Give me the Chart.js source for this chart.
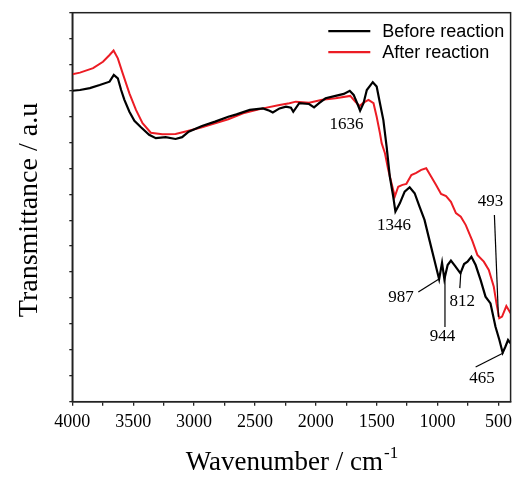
<!DOCTYPE html>
<html lang="en">
<head>
    <meta charset="UTF-8">
    <style>
        * { margin: 0; padding: 0; box-sizing: border-box; }
        body { background: #fff; width: 518px; height: 478px; overflow: hidden; }
        .chart-box { position: relative; width: 518px; height: 478px; }
    </style>
</head>
<body>
<div class="chart-box"><canvas id="ftirChart"></canvas></div>

<script src="https://cdn.jsdelivr.net/npm/chart.js@4.4.1/dist/chart.umd.min.js"></script>
<script>
    // spectra (wavenumber in cm-1, transmittance in arbitrary units)
    const beforeWn = [4000, 3937, 3856, 3775, 3694, 3659, 3626, 3599, 3572, 3531, 3490, 3436, 3369, 3314, 3233, 3152, 3098, 3044, 2935, 2827,
        2719, 2651, 2542, 2434, 2380, 2353, 2298, 2245, 2204, 2185, 2136, 2055, 2014, 1973, 1920, 1838, 1770, 1721, 1689, 1654,
        1636, 1608, 1581, 1532, 1500, 1473, 1445, 1418, 1392, 1364, 1346, 1310, 1270, 1229, 1188, 1148, 1107, 1067, 1026, 987,
        963, 944, 917, 890, 855, 812, 782, 754, 722, 687, 646, 606, 565, 524, 492, 465, 443, 421, 400];
    const beforeT = [11.99, 12.02, 12.09, 12.21, 12.34, 12.60, 12.47, 12.02, 11.64, 11.18, 10.83, 10.58, 10.29, 10.16, 10.20, 10.13, 10.20, 10.41, 10.63, 10.80,
        10.99, 11.08, 11.25, 11.31, 11.22, 11.15, 11.31, 11.38, 11.34, 11.18, 11.51, 11.48, 11.35, 11.51, 11.70, 11.79, 11.87, 11.99, 11.83, 11.44,
        11.22, 11.51, 12.02, 12.32, 12.15, 11.51, 10.86, 9.83, 8.68, 7.91, 7.33, 7.65, 8.10, 8.27, 8.04, 7.52, 7.01, 6.24, 5.46, 4.72,
        5.36, 4.72, 5.27, 5.44, 5.23, 4.95, 5.31, 5.40, 5.59, 5.27, 4.69, 4.05, 3.79, 2.89, 2.38, 1.89, 2.12, 2.38, 2.25];

    const afterWn = [4000, 3937, 3829, 3748, 3694, 3661, 3626, 3586, 3531, 3477, 3423, 3355, 3261, 3152, 3044, 2935, 2827, 2719, 2597, 2434,
        2298, 2217, 2164, 2055, 1947, 1838, 1717, 1676, 1640, 1608, 1567, 1526, 1500, 1473, 1459, 1432, 1405, 1378, 1351, 1323,
        1288, 1256, 1215, 1175, 1134, 1093, 1053, 1012, 971, 930, 890, 849, 809, 768, 714, 673, 620, 579, 538, 516,
        493, 470, 435, 400];
    const afterT = [12.63, 12.69, 12.86, 13.11, 13.37, 13.54, 13.24, 12.66, 11.89, 11.25, 10.74, 10.37, 10.31, 10.32, 10.45, 10.58, 10.74, 10.89, 11.12, 11.31,
        11.44, 11.51, 11.57, 11.53, 11.64, 11.70, 11.79, 11.57, 11.40, 11.53, 11.64, 11.51, 10.99, 10.35, 9.97, 9.58, 8.94, 8.42, 7.91, 8.29,
        8.36, 8.40, 8.74, 8.82, 8.94, 9.00, 8.68, 8.36, 8.01, 7.93, 7.71, 7.27, 7.13, 6.81, 6.20, 5.66, 5.40, 5.08, 4.43, 3.79,
        3.22, 3.28, 3.69, 3.41];

    const seriesNames = ['Before reaction', 'After reaction'];
    const seriesColors = ['#000000', '#ec1c24'];

    // x axis ticks: marks every 250, labels every 500
    const xTicks = [4000, 3750, 3500, 3250, 3000, 2750, 2500, 2250, 2000, 1750, 1500, 1250, 1000, 750, 500];
    const xTickLabels = [4000, 3500, 3000, 2500, 2000, 1500, 1000, 500];

    // peak annotations (text centre and optional leader line, in data units)
    const peakLabels = ['1636', '1346', '493', '987', '944', '812', '465'];
    const peakTextWn = [1748, 1357, 565, 1301, 959, 797, 634];
    const peakTextT = [10.67, 6.78, 7.70, 4.00, 2.50, 3.88, 0.91];
    const leaderFrom = [null, null, [533, 7.20], [1158, 4.23], [939, 2.88], [817, 4.38], [687, 1.34]];
    const leaderTo = [null, null, [500, 3.27], [988, 4.73], [939, 4.96], [809, 4.96], [460, 1.88]];

    const serif = "'Times New Roman', 'Liberation Serif', serif";
    const sans = "Arial, 'Liberation Sans', sans-serif";

    function toPoints(xs, ys) {
        return xs.map((x, i) => ({ x: x, y: ys[i] }));
    }

    // frame, legend, labels and axis titles
    const decor = {
        id: 'decor',
        afterDraw(chart) {
            const ctx = chart.ctx;
            const a = chart.chartArea;
            const xs = chart.scales.x;
            const ys = chart.scales.y;
            ctx.save();

            ctx.strokeStyle = '#222';
            ctx.lineWidth = 1.5;
            ctx.strokeRect(a.left, a.top, a.right - a.left, a.bottom - a.top);

            // legend
            ctx.font = '18px ' + sans;
            ctx.textBaseline = 'middle';
            ctx.textAlign = 'left';
            chart.data.datasets.forEach((ds, i) => {
                const ly = a.top + 18.5 + i * 21;
                ctx.strokeStyle = ds.borderColor;
                ctx.lineWidth = 2.2;
                ctx.beginPath();
                ctx.moveTo(a.left + 256, ly);
                ctx.lineTo(a.left + 298, ly);
                ctx.stroke();
                ctx.fillStyle = '#000';
                ctx.fillText(ds.label, a.left + 310, ly + 1);
            });

            // peak labels
            ctx.font = '17px ' + serif;
            ctx.textAlign = 'center';
            ctx.fillStyle = '#000';
            ctx.strokeStyle = '#000';
            ctx.lineWidth = 1.2;
            peakLabels.forEach((txt, i) => {
                ctx.fillText(txt, xs.getPixelForValue(peakTextWn[i]), ys.getPixelForValue(peakTextT[i]));
                if (leaderFrom[i]) {
                    ctx.beginPath();
                    ctx.moveTo(xs.getPixelForValue(leaderFrom[i][0]), ys.getPixelForValue(leaderFrom[i][1]));
                    ctx.lineTo(xs.getPixelForValue(leaderTo[i][0]), ys.getPixelForValue(leaderTo[i][1]));
                    ctx.stroke();
                }
            });

            // x title with superscript
            const cx = (a.left + a.right) / 2;
            ctx.textBaseline = 'alphabetic';
            ctx.textAlign = 'left';
            ctx.font = '27px ' + serif;
            const mainTxt = 'Wavenumber / cm';
            const w1 = ctx.measureText(mainTxt).width;
            ctx.font = '17px ' + serif;
            const w2 = ctx.measureText('-1').width;
            const x0 = cx - (w1 + w2) / 2;
            ctx.font = '27px ' + serif;
            ctx.fillText(mainTxt, x0, 470);
            ctx.font = '17px ' + serif;
            ctx.fillText('-1', x0 + w1 + 1, 458);

            // y title
            ctx.translate(30, 210);
            ctx.rotate(-Math.PI / 2);
            ctx.textAlign = 'center';
            ctx.textBaseline = 'middle';
            ctx.font = '28px ' + serif;
            ctx.fillText('Transmittance / a.u', 0, 0);

            ctx.restore();
        }
    };

    const ctx = document.getElementById('ftirChart').getContext('2d');
    const ftirChart = new Chart(ctx, {
        type: 'line',
        data: {
            datasets: [{
                label: seriesNames[0],
                data: toPoints(beforeWn, beforeT),
                borderColor: seriesColors[0],
                borderWidth: 2.2,
                pointRadius: 0,
                tension: 0
            }, {
                label: seriesNames[1],
                data: toPoints(afterWn, afterT),
                borderColor: seriesColors[1],
                borderWidth: 2,
                pointRadius: 0,
                tension: 0
            }]
        },
        options: {
            responsive: true,
            maintainAspectRatio: false,
            animation: false,
            layout: { padding: { top: 12.7, right: 3, left: 0, bottom: 0 } },
            plugins: {
                legend: { display: false },
                tooltip: { enabled: false }
            },
            scales: {
                x: {
                    type: 'linear',
                    min: 400,
                    max: 4000,
                    reverse: true,
                    afterBuildTicks: s => { s.ticks = xTicks.map(v => ({ value: v })); },
                    afterFit: s => { s.height = 76.3; },
                    ticks: {
                        autoSkip: false,
                        maxRotation: 0,
                        padding: 6,
                        color: '#000',
                        font: { family: serif, size: 18 },
                        callback: v => xTickLabels.includes(v) ? String(v) : ''
                    },
                    grid: { drawOnChartArea: false, drawTicks: true, tickLength: 4, color: '#222', lineWidth: 1.3 },
                    border: { display: true, color: '#222', width: 1.5 }
                },
                y: {
                    type: 'linear',
                    min: 0,
                    max: 15,
                    afterFit: s => { s.width = 72.3; },
                    ticks: { display: false, stepSize: 1 },
                    grid: { drawOnChartArea: false, drawTicks: true, tickLength: 3, color: '#222', lineWidth: 1.3 },
                    border: { display: true, color: '#222', width: 1.5 }
                }
            }
        },
        plugins: [decor]
    });
</script>
</body>
</html>
